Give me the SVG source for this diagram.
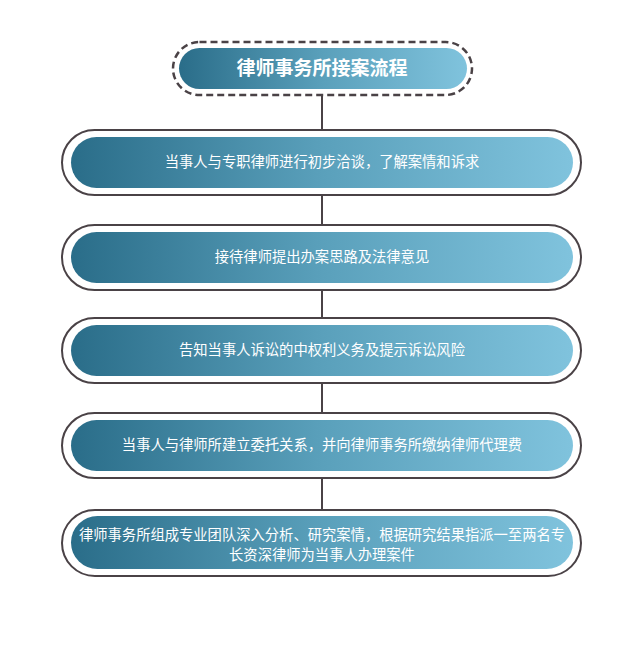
<svg xmlns="http://www.w3.org/2000/svg" width="641" height="667" viewBox="0 0 641 667">
<defs>
<linearGradient id="g" x1="0" y1="0" x2="1" y2="0">
<stop offset="0" stop-color="#2a6d89"/>
<stop offset="0.5" stop-color="#5aa0bb"/>
<stop offset="1" stop-color="#80c3dd"/>
</linearGradient>
</defs>
<style>
.outer{fill:#fff;stroke:#4a4246;stroke-width:2}
.dash{fill:#fff;stroke:#4a4246;stroke-width:2.5;stroke-dasharray:7 4}
.inner{fill:url(#g)}
.t{font-family:"Liberation Sans","Noto Sans CJK SC",sans-serif;font-size:14.3px;fill:#fff;text-anchor:middle}
.title{font-family:"Liberation Sans","Noto Sans CJK SC",sans-serif;font-size:19px;font-weight:bold;fill:#fff;text-anchor:middle}
.c{stroke:#4a4246;stroke-width:2;fill:none}
</style>
<rect width="641" height="667" fill="#fff"/>
<g id="connectors">
<line class="c" x1="322" y1="95" x2="322" y2="130"/>
<line class="c" x1="322" y1="195" x2="322" y2="225"/>
<line class="c" x1="322" y1="290" x2="322" y2="318"/>
<line class="c" x1="322" y1="383" x2="322" y2="413"/>
<line class="c" x1="322" y1="478" x2="322" y2="510"/>
</g>
<g id="title">
<rect class="dash" x="173" y="42" width="299" height="53" rx="26.5"/>
<rect class="inner" x="179" y="48" width="288" height="41" rx="20.5"/>
<text class="title" x="322" y="75">律师事务所接案流程</text>
</g>
<g id="step1">
<rect class="outer" x="62" y="130" width="519" height="65" rx="32.5"/>
<rect class="inner" x="71" y="137" width="502" height="51" rx="25.5"/>
<text class="t" x="322" y="167">当事人与专职律师进行初步洽谈，了解案情和诉求</text>
</g>
<g id="step2">
<rect class="outer" x="62" y="225" width="519" height="65" rx="32.5"/>
<rect class="inner" x="71" y="232" width="502" height="51" rx="25.5"/>
<text class="t" x="322" y="262">接待律师提出办案思路及法律意见</text>
</g>
<g id="step3">
<rect class="outer" x="62" y="318" width="519" height="65" rx="32.5"/>
<rect class="inner" x="71" y="325" width="502" height="51" rx="25.5"/>
<text class="t" x="322" y="355">告知当事人诉讼的中权利义务及提示诉讼风险</text>
</g>
<g id="step4">
<rect class="outer" x="62" y="413" width="519" height="65" rx="32.5"/>
<rect class="inner" x="71" y="420" width="502" height="51" rx="25.5"/>
<text class="t" x="322" y="450">当事人与律师所建立委托关系，并向律师事务所缴纳律师代理费</text>
</g>
<g id="step5">
<rect class="outer" x="62" y="510" width="519" height="66" rx="33"/>
<rect class="inner" x="71" y="516" width="502" height="53" rx="26.5"/>
<text class="t" x="322" y="540">律师事务所组成专业团队深入分析、研究案情，根据研究结果指派一至两名专</text>
<text class="t" x="322" y="560">长资深律师为当事人办理案件</text>
</g>
</svg>
